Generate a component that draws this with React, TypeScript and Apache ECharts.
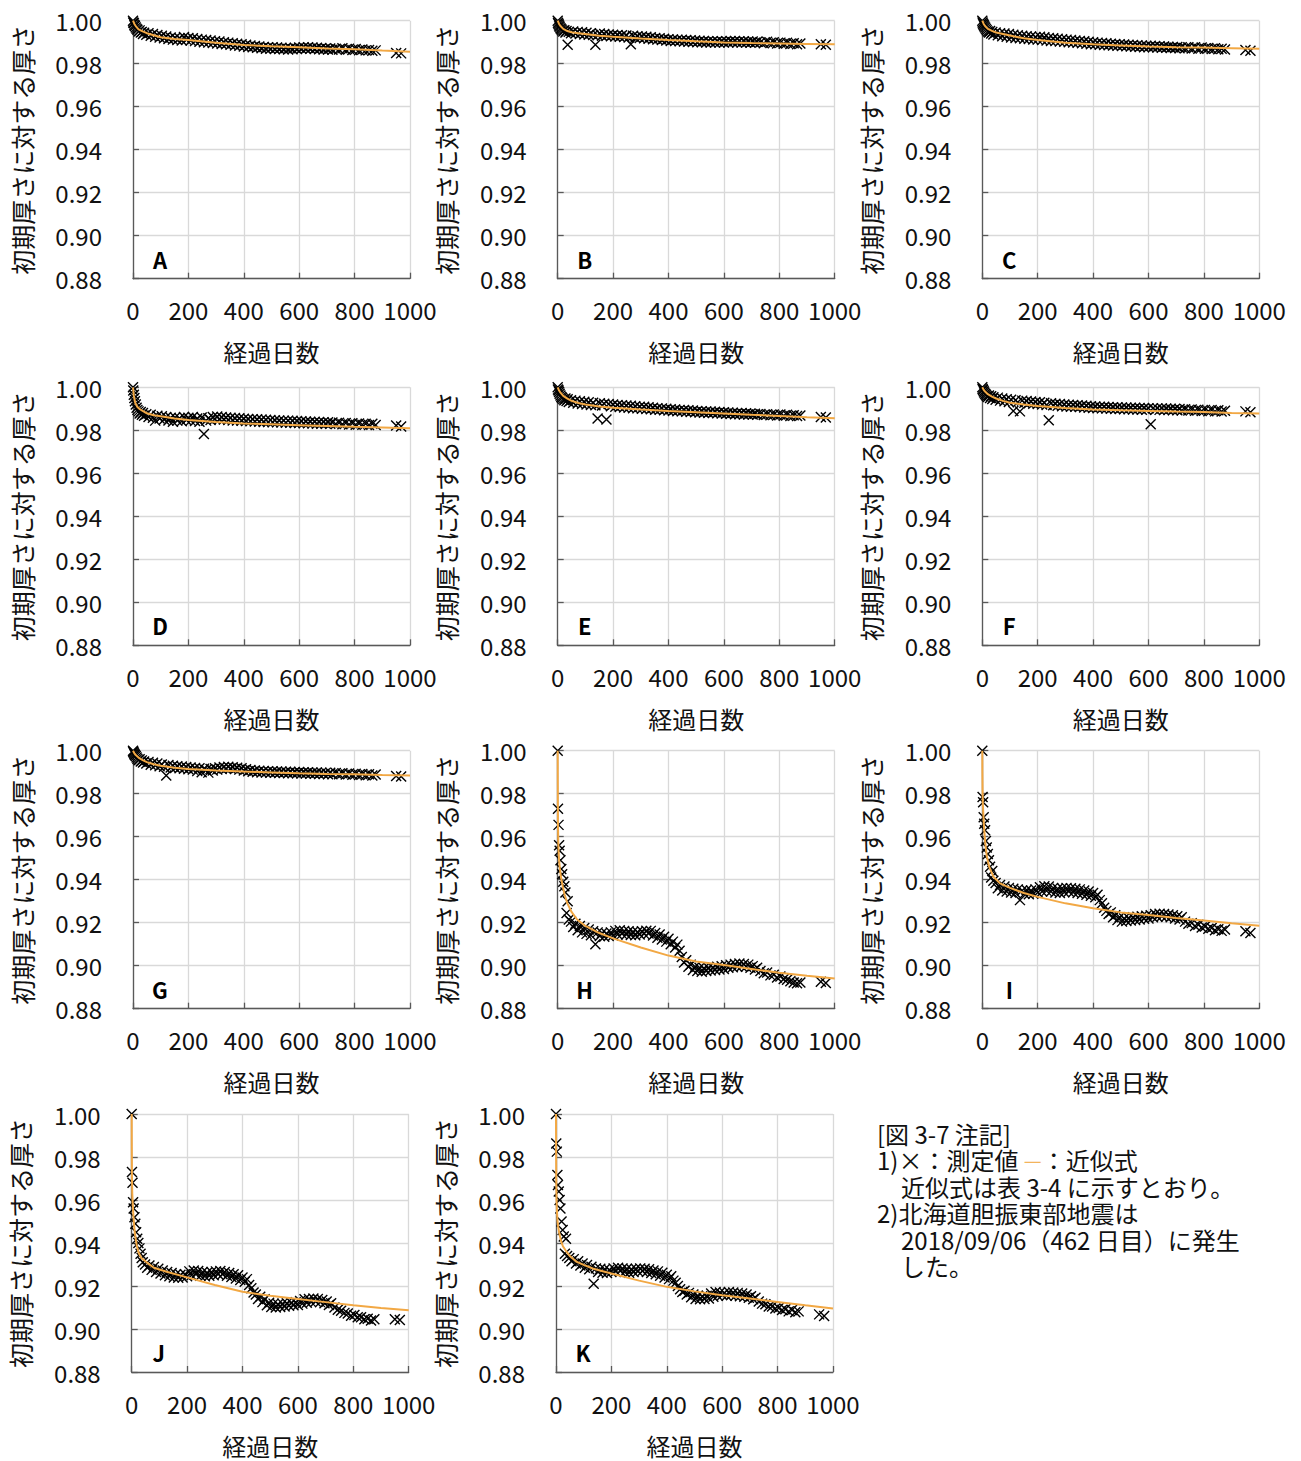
import React, { useEffect, useRef } from "react";
import * as echarts from "echarts";

// ---- measurement days (shared by all panels) ----
const DAYS = [
  0, 1, 3, 5, 7, 10, 13, 16, 20, 24, 28, 32, 36, 40,
  48, 56, 64, 72, 80, 88, 96, 104, 112, 120, 128, 136, 144, 152, 160, 168, 176, 184, 192,
  200, 208, 216, 224, 232, 240, 248, 256, 264, 272, 280, 288, 296, 304, 312, 320,
  328, 336, 344, 352, 360, 368, 376, 384, 392, 400, 408, 416, 424, 432, 440,
  448, 456, 464, 472, 480, 488, 496, 504, 512, 520, 528, 536, 544, 552, 560, 568, 576, 584, 592, 600,
  608, 616, 624, 632, 640, 648, 656, 664, 672, 680, 688, 696, 704, 712, 720,
  732, 744, 756, 768, 780, 792, 804, 816, 828, 840, 852, 864, 876,
  950, 968,
];

// ---- measured values (初期厚さに対する厚さ) ----
const VAL_A = [
  1.0, 0.9992, 0.9988, 0.998, 0.9975, 0.9968, 0.9962, 0.9958, 0.995, 0.9955, 0.9945, 0.9948, 0.9938, 0.9944,
  0.9935, 0.9942, 0.993, 0.9938, 0.9925, 0.9933, 0.9922, 0.993, 0.9918, 0.9926, 0.9915, 0.9922, 0.9912, 0.992, 0.991, 0.9918, 0.9908, 0.9924, 0.9912,
  0.992, 0.9908, 0.9918, 0.9905, 0.9915, 0.9902, 0.9912, 0.99, 0.991, 0.9898, 0.9908, 0.9896, 0.9905, 0.9894, 0.9903, 0.9892,
  0.99, 0.989, 0.9898, 0.9888, 0.9895, 0.9885, 0.9893, 0.9883, 0.989, 0.988, 0.9888, 0.9878, 0.9885, 0.9876, 0.9882,
  0.9874, 0.988, 0.9872, 0.9878, 0.987, 0.9877, 0.9869, 0.9876, 0.9868, 0.9875, 0.9868, 0.9874, 0.9867, 0.9873, 0.9866, 0.9872, 0.9867, 0.9874, 0.9868, 0.9875,
  0.9869, 0.9876, 0.987, 0.9877, 0.9869, 0.9875, 0.9868, 0.9874, 0.9867, 0.9873, 0.9866, 0.9872, 0.9866, 0.9871, 0.9865,
  0.987, 0.9866, 0.9872, 0.9865, 0.9869, 0.9864, 0.9868, 0.9863, 0.9866, 0.9862, 0.9864, 0.986, 0.9862,
  0.985, 0.9848,
];
const VAL_B = [
  1.0, 0.999, 0.9985, 0.9978, 0.9972, 0.9965, 0.996, 0.9955, 0.995, 0.9956, 0.9945, 0.9952, 0.9888, 0.9948,
  0.9942, 0.995, 0.994, 0.9948, 0.9938, 0.9946, 0.9936, 0.9944, 0.9935, 0.9942, 0.9933, 0.9888, 0.9932, 0.994, 0.993, 0.9938, 0.9929, 0.9936, 0.9928,
  0.9935, 0.9926, 0.9934, 0.9925, 0.9932, 0.9924, 0.9931, 0.9922, 0.989, 0.993, 0.9921, 0.9928, 0.992, 0.9927, 0.9918, 0.9925,
  0.9916, 0.9923, 0.9914, 0.992, 0.9912, 0.9918, 0.991, 0.9916, 0.9908, 0.9914, 0.9906, 0.9913, 0.9905, 0.9912, 0.9904,
  0.9911, 0.9903, 0.991, 0.9902, 0.9909, 0.9901, 0.9908, 0.99, 0.9907, 0.99, 0.9906, 0.9899, 0.9905, 0.9899, 0.9905, 0.9898, 0.9904, 0.9898, 0.9904, 0.9899,
  0.9905, 0.9899, 0.9906, 0.99, 0.9906, 0.9899, 0.9905, 0.9898, 0.9904, 0.9898, 0.9903, 0.9897, 0.9903, 0.9897, 0.9902,
  0.99, 0.9895, 0.9902, 0.9896, 0.99, 0.9894, 0.9898, 0.9893, 0.9897, 0.9892, 0.9895, 0.9891, 0.9894,
  0.989, 0.9888,
];
const VAL_C = [
  1.0, 0.9992, 0.9986, 0.998, 0.9974, 0.9968, 0.9962, 0.9956, 0.995, 0.9945, 0.9952, 0.994, 0.9948, 0.9936,
  0.9945, 0.9932, 0.9942, 0.9928, 0.994, 0.9925, 0.9938, 0.9922, 0.9935, 0.992, 0.9932, 0.9918, 0.993, 0.9916, 0.9928, 0.9915, 0.9926, 0.9913, 0.9924,
  0.9912, 0.9925, 0.991, 0.9923, 0.9908, 0.992, 0.9906, 0.9918, 0.9905, 0.9916, 0.9903, 0.9914, 0.9902, 0.9912, 0.99, 0.991,
  0.9899, 0.9908, 0.9897, 0.9906, 0.9895, 0.9904, 0.9893, 0.9902, 0.9891, 0.99, 0.989, 0.9898, 0.9888, 0.9896, 0.9887,
  0.9895, 0.9886, 0.9893, 0.9885, 0.9892, 0.9884, 0.989, 0.9882, 0.9889, 0.9881, 0.9888, 0.988, 0.9887, 0.9879, 0.9886, 0.9878, 0.9885, 0.9877, 0.9884, 0.9876,
  0.9883, 0.9876, 0.9882, 0.9875, 0.9881, 0.9874, 0.988, 0.9874, 0.9879, 0.9873, 0.9878, 0.9873, 0.9878, 0.9872, 0.9877,
  0.9872, 0.9877, 0.9871, 0.9876, 0.987, 0.9875, 0.9869, 0.9873, 0.9868, 0.9872, 0.9867, 0.987, 0.9866,
  0.9864, 0.986,
];
const VAL_D = [
  1.0, 0.9985, 0.9965, 0.995, 0.9935, 0.992, 0.9905, 0.9895, 0.9888, 0.9878, 0.9885, 0.9872, 0.988, 0.9868,
  0.9875, 0.9862, 0.9872, 0.9858, 0.9845, 0.9868, 0.9855, 0.9865, 0.985, 0.9862, 0.9846, 0.9858, 0.984, 0.986, 0.9845, 0.9856, 0.9842, 0.9862, 0.9848,
  0.9858, 0.9845, 0.9862, 0.9843, 0.9855, 0.984, 0.986, 0.9783, 0.9845, 0.9856, 0.9848, 0.9862, 0.9852, 0.9864, 0.985, 0.9862,
  0.985, 0.986, 0.9848, 0.9858, 0.9846, 0.9857, 0.9845, 0.9856, 0.9844, 0.9854, 0.9843, 0.9853, 0.9842, 0.9852, 0.9841,
  0.9851, 0.984, 0.985, 0.9839, 0.9849, 0.9838, 0.9848, 0.9837, 0.9847, 0.9837, 0.9846, 0.9836, 0.9845, 0.9835, 0.9845, 0.9835, 0.9844, 0.9834, 0.9843, 0.9834,
  0.9842, 0.9833, 0.9841, 0.9833, 0.984, 0.9832, 0.984, 0.9831, 0.9839, 0.9831, 0.9838, 0.983, 0.9837, 0.983, 0.9836,
  0.9829, 0.9835, 0.9828, 0.9834, 0.9827, 0.9833, 0.9826, 0.9832, 0.9826, 0.9831, 0.9825, 0.983, 0.9825,
  0.9822, 0.9818,
];
const VAL_E = [
  1.0, 0.999, 0.9985, 0.9978, 0.997, 0.9962, 0.9955, 0.995, 0.9945, 0.994, 0.9948, 0.9936, 0.9944, 0.9932,
  0.994, 0.9928, 0.9938, 0.9925, 0.9935, 0.9922, 0.9933, 0.992, 0.993, 0.9918, 0.9928, 0.9916, 0.9855, 0.9926, 0.9915, 0.9924, 0.985, 0.9922, 0.9912,
  0.992, 0.991, 0.9918, 0.9908, 0.9917, 0.9906, 0.9915, 0.9905, 0.9914, 0.9903, 0.9912, 0.9902, 0.991, 0.99, 0.9909, 0.9899,
  0.9907, 0.9898, 0.9905, 0.9896, 0.9903, 0.9895, 0.9902, 0.9893, 0.99, 0.9892, 0.9898, 0.989, 0.9897, 0.9889, 0.9895,
  0.9888, 0.9894, 0.9886, 0.9893, 0.9885, 0.9892, 0.9884, 0.989, 0.9883, 0.9889, 0.9882, 0.9888, 0.9881, 0.9887, 0.988, 0.9886, 0.9879, 0.9885, 0.9878, 0.9884,
  0.9877, 0.9883, 0.9876, 0.9882, 0.9875, 0.9881, 0.9875, 0.988, 0.9874, 0.9879, 0.9873, 0.9878, 0.9873, 0.9877, 0.9872,
  0.9876, 0.9871, 0.9875, 0.987, 0.9874, 0.9869, 0.9873, 0.9868, 0.9872, 0.9867, 0.987, 0.9866, 0.9869,
  0.9862, 0.986,
];
const VAL_F = [
  1.0, 0.9992, 0.9988, 0.9982, 0.9976, 0.997, 0.9965, 0.996, 0.9955, 0.9962, 0.995, 0.9958, 0.9946, 0.9954,
  0.9942, 0.9952, 0.9938, 0.9948, 0.9935, 0.9945, 0.9932, 0.9942, 0.989, 0.994, 0.993, 0.9888, 0.9938, 0.9928, 0.9936, 0.9926, 0.9934, 0.9924, 0.9932,
  0.9922, 0.993, 0.992, 0.9928, 0.9918, 0.9847, 0.9926, 0.9916, 0.9924, 0.9914, 0.9922, 0.9912, 0.992, 0.9911, 0.9919, 0.991,
  0.9918, 0.9909, 0.9916, 0.9908, 0.9915, 0.9906, 0.9914, 0.9905, 0.9912, 0.9904, 0.9911, 0.9903, 0.991, 0.9902, 0.9909,
  0.9901, 0.9908, 0.99, 0.9907, 0.9899, 0.9907, 0.9899, 0.9906, 0.9898, 0.9906, 0.9898, 0.9905, 0.9897, 0.9905, 0.9897, 0.9904, 0.9896, 0.9904, 0.9896, 0.9903,
  0.9828, 0.9903, 0.9895, 0.9902, 0.9895, 0.9902, 0.9894, 0.9901, 0.9894, 0.99, 0.9893, 0.99, 0.9893, 0.9899, 0.9892,
  0.9898, 0.9892, 0.9897, 0.9891, 0.9896, 0.989, 0.9895, 0.9889, 0.9894, 0.9888, 0.9893, 0.9887, 0.9891,
  0.9888, 0.9884,
];
const VAL_G = [
  1.0, 0.9995, 0.999, 0.9985, 0.998, 0.9975, 0.9968, 0.9962, 0.9956, 0.996, 0.995, 0.9955, 0.9945, 0.995,
  0.994, 0.9948, 0.9935, 0.9944, 0.9932, 0.994, 0.9928, 0.9936, 0.9925, 0.9885, 0.9934, 0.9922, 0.993, 0.992, 0.9928, 0.9918, 0.9926, 0.9916, 0.9924,
  0.9914, 0.9922, 0.9912, 0.992, 0.9905, 0.9918, 0.99, 0.9916, 0.991, 0.9898, 0.9915, 0.9908, 0.9918, 0.9912, 0.9922, 0.9915,
  0.9924, 0.9916, 0.9925, 0.9917, 0.9923, 0.9915, 0.9921, 0.9912, 0.9918, 0.9908, 0.9914, 0.9904, 0.991, 0.9902, 0.9908,
  0.99, 0.9907, 0.9899, 0.9906, 0.9898, 0.9905, 0.9897, 0.9904, 0.9897, 0.9903, 0.9896, 0.9903, 0.9896, 0.9902, 0.9895, 0.9902, 0.9895, 0.9901, 0.9895, 0.9901,
  0.9894, 0.99, 0.9894, 0.99, 0.9893, 0.9899, 0.9893, 0.9899, 0.9892, 0.9898, 0.9892, 0.9898, 0.9891, 0.9897, 0.9891,
  0.9896, 0.989, 0.9895, 0.9889, 0.9894, 0.9888, 0.9893, 0.9887, 0.9892, 0.9886, 0.989, 0.9885, 0.9889,
  0.9882, 0.988,
];
const VAL_H = [
  1.0, 0.973, 0.9655, 0.956, 0.9535, 0.949, 0.945, 0.9425, 0.939, 0.937, 0.934, 0.9245, 0.93, 0.9215,
  0.9205, 0.918, 0.9195, 0.9165, 0.9185, 0.9155, 0.9175, 0.9148, 0.9168, 0.9142, 0.916, 0.91, 0.9155, 0.9138, 0.9152, 0.9135, 0.915, 0.9138, 0.9155,
  0.914, 0.9162, 0.9145, 0.9165, 0.9148, 0.9162, 0.9145, 0.916, 0.9143, 0.9158, 0.9142, 0.9157, 0.9145, 0.916, 0.9148, 0.9163,
  0.915, 0.9162, 0.914, 0.9152, 0.913, 0.9145, 0.9122, 0.9135, 0.9112, 0.9125, 0.91, 0.9112, 0.9085, 0.9098, 0.907,
  0.904, 0.9015, 0.9025, 0.8995, 0.9005, 0.898, 0.8995, 0.8975, 0.899, 0.8972, 0.8988, 0.8975, 0.899, 0.8978, 0.8992, 0.898, 0.8995, 0.8982, 0.8998, 0.8985,
  0.9002, 0.899, 0.9005, 0.8993, 0.9008, 0.8995, 0.901, 0.8997, 0.9008, 0.8995, 0.9005, 0.899, 0.8998, 0.8982, 0.899,
  0.8975, 0.8965, 0.8968, 0.8955, 0.8958, 0.8945, 0.895, 0.8938, 0.8935, 0.8928, 0.8922, 0.8918, 0.8922,
  0.8925, 0.892,
];
const VAL_I = [
  1.0, 0.9785, 0.976, 0.969, 0.966, 0.963, 0.958, 0.955, 0.952, 0.949, 0.946, 0.941, 0.944, 0.9395,
  0.9385, 0.936, 0.9375, 0.935, 0.9368, 0.9345, 0.9362, 0.934, 0.9358, 0.9338, 0.9355, 0.9305, 0.935, 0.9335, 0.9352, 0.9332, 0.935, 0.9335, 0.9355,
  0.934, 0.9365, 0.9345, 0.937, 0.9348, 0.9368, 0.9345, 0.9362, 0.934, 0.9358, 0.9338, 0.936, 0.9342, 0.9362, 0.9345, 0.936,
  0.9342, 0.9358, 0.9338, 0.9355, 0.9335, 0.935, 0.933, 0.9345, 0.9325, 0.9338, 0.9318, 0.933, 0.9305, 0.929, 0.927,
  0.9255, 0.924, 0.9248, 0.9225, 0.9235, 0.9212, 0.9225, 0.9205, 0.922, 0.9208, 0.9222, 0.921, 0.9225, 0.9212, 0.9228, 0.9215, 0.923, 0.9218, 0.9232, 0.922,
  0.9235, 0.9225, 0.924, 0.9228, 0.9242, 0.923, 0.924, 0.9228, 0.9238, 0.9225, 0.9235, 0.922, 0.923, 0.9215, 0.9225,
  0.9205, 0.9195, 0.9198, 0.9185, 0.919, 0.9178, 0.9182, 0.9172, 0.9175, 0.9165, 0.917, 0.9162, 0.9168,
  0.916, 0.9152,
];
const VAL_J = [
  1.0, 0.973, 0.968, 0.959, 0.956, 0.952, 0.949, 0.945, 0.942, 0.94, 0.9375, 0.935, 0.933, 0.931,
  0.93, 0.9285, 0.9295, 0.9275, 0.9288, 0.9265, 0.928, 0.9258, 0.9272, 0.925, 0.9265, 0.9245, 0.926, 0.924, 0.9255, 0.9238, 0.9252, 0.924, 0.9255,
  0.9245, 0.9268, 0.925, 0.9272, 0.9255, 0.927, 0.9248, 0.9265, 0.9245, 0.9262, 0.9248, 0.9265, 0.925, 0.9268, 0.9255, 0.927,
  0.9255, 0.9265, 0.9248, 0.926, 0.9242, 0.9255, 0.9235, 0.925, 0.9228, 0.924, 0.922, 0.9232, 0.9205, 0.919, 0.917,
  0.916, 0.914, 0.915, 0.9125, 0.9138, 0.911, 0.9122, 0.9102, 0.9118, 0.91, 0.9115, 0.9102, 0.9118, 0.9105, 0.912, 0.9108, 0.9122, 0.911, 0.9125, 0.9112,
  0.913, 0.9118, 0.9138, 0.9122, 0.914, 0.9125, 0.9142, 0.9128, 0.914, 0.9125, 0.9135, 0.912, 0.9128, 0.9112, 0.912,
  0.91, 0.909, 0.9085, 0.9075, 0.9072, 0.9062, 0.9065, 0.9055, 0.9055, 0.9045, 0.9048, 0.904, 0.9045,
  0.9045, 0.9042,
];
const VAL_K = [
  1.0, 0.9863, 0.9825, 0.9716, 0.967, 0.964, 0.96, 0.956, 0.95, 0.946, 0.943, 0.935, 0.942, 0.934,
  0.933, 0.9315, 0.9325, 0.9305, 0.9315, 0.9295, 0.9305, 0.9285, 0.9298, 0.9278, 0.929, 0.921, 0.9282, 0.9265, 0.928, 0.9262, 0.9278, 0.926, 0.9275,
  0.9265, 0.9282, 0.9268, 0.9285, 0.927, 0.9282, 0.9265, 0.928, 0.9262, 0.9278, 0.9265, 0.928, 0.9268, 0.9282, 0.927, 0.928,
  0.9265, 0.9278, 0.926, 0.9272, 0.9255, 0.9268, 0.9248, 0.9262, 0.924, 0.9252, 0.9232, 0.9245, 0.9225, 0.9215, 0.92,
  0.9185, 0.9172, 0.9178, 0.916, 0.9168, 0.9148, 0.916, 0.914, 0.9155, 0.9138, 0.9152, 0.914, 0.9155, 0.9142, 0.9165, 0.915, 0.9172, 0.9155, 0.917, 0.9158,
  0.9168, 0.9155, 0.9172, 0.9158, 0.917, 0.9155, 0.9168, 0.9152, 0.9165, 0.915, 0.916, 0.9145, 0.9152, 0.9138, 0.9145,
  0.9128, 0.9118, 0.9115, 0.9105, 0.9105, 0.9095, 0.9098, 0.9088, 0.9092, 0.9082, 0.9088, 0.9078, 0.9082,
  0.9068, 0.906,
];

// ---- fitted curves (近似式) as [day, value] ----
const FIT_A = [[0, 1.0], [5, 0.9985], [10, 0.9975], [20, 0.996], [35, 0.995], [50, 0.9942], [75, 0.9932], [100, 0.9923], [150, 0.9915], [200, 0.991], [300, 0.9897], [400, 0.9887], [500, 0.9881], [600, 0.9876], [700, 0.9871], [800, 0.9867], [900, 0.9861], [1000, 0.9856]];
const FIT_B = [[0, 1.0], [5, 0.9985], [10, 0.9975], [20, 0.9962], [35, 0.9952], [50, 0.9946], [75, 0.9942], [100, 0.9938], [150, 0.993], [200, 0.9925], [300, 0.9917], [400, 0.991], [500, 0.9904], [600, 0.9899], [700, 0.9896], [800, 0.9894], [900, 0.9892], [1000, 0.989]];
const FIT_C = [[0, 1.0], [5, 0.9985], [10, 0.9975], [20, 0.9962], [35, 0.9953], [50, 0.9945], [75, 0.9938], [100, 0.9931], [150, 0.9918], [200, 0.991], [300, 0.9898], [400, 0.989], [500, 0.9885], [600, 0.988], [700, 0.9877], [800, 0.9875], [900, 0.9872], [1000, 0.9869]];
const FIT_D = [[0, 1.0], [3, 0.996], [8, 0.9928], [15, 0.991], [25, 0.9898], [35, 0.989], [50, 0.9879], [75, 0.987], [100, 0.9865], [150, 0.9855], [200, 0.9848], [300, 0.9839], [400, 0.9832], [500, 0.9828], [600, 0.9824], [700, 0.982], [800, 0.9816], [900, 0.9813], [1000, 0.981]];
const FIT_E = [[0, 1.0], [5, 0.9985], [10, 0.9975], [20, 0.996], [35, 0.9947], [50, 0.9937], [75, 0.9927], [100, 0.992], [150, 0.9911], [200, 0.9905], [300, 0.9897], [400, 0.989], [500, 0.9884], [600, 0.9878], [700, 0.9872], [800, 0.9867], [900, 0.9861], [1000, 0.9856]];
const FIT_F = [[0, 1.0], [5, 0.9988], [10, 0.998], [20, 0.9968], [35, 0.9957], [50, 0.9948], [75, 0.9937], [100, 0.9928], [150, 0.992], [200, 0.9913], [300, 0.9904], [400, 0.9897], [500, 0.9893], [600, 0.989], [700, 0.9887], [800, 0.9885], [900, 0.9881], [1000, 0.9878]];
const FIT_G = [[0, 1.0], [5, 0.9988], [10, 0.998], [20, 0.9968], [35, 0.9956], [50, 0.9947], [75, 0.9937], [100, 0.993], [150, 0.9921], [200, 0.9915], [300, 0.9908], [400, 0.9903], [500, 0.9899], [600, 0.9895], [700, 0.9892], [800, 0.989], [900, 0.9887], [1000, 0.9885]];
const FIT_H = [[0, 1.0], [0.3, 0.985], [1, 0.965], [2, 0.958], [3, 0.954], [5, 0.949], [8, 0.945], [12, 0.941], [18, 0.937], [25, 0.933], [35, 0.929], [50, 0.925], [70, 0.9215], [100, 0.9185], [150, 0.9152], [200, 0.9127], [300, 0.9085], [400, 0.9047], [500, 0.902], [600, 0.9003], [700, 0.8985], [800, 0.8967], [900, 0.8953], [1000, 0.894]];
const FIT_I = [[0, 1.0], [0.3, 0.99], [1, 0.981], [2, 0.975], [3.6, 0.971], [6, 0.965], [10, 0.958], [16, 0.951], [25, 0.946], [40, 0.9414], [64, 0.9383], [100, 0.9362], [150, 0.9338], [200, 0.932], [300, 0.929], [400, 0.9267], [500, 0.9248], [600, 0.9236], [700, 0.9222], [800, 0.921], [900, 0.9197], [1000, 0.9186]];
const FIT_J = [[0, 1.0], [0.3, 0.985], [1, 0.97], [2, 0.963], [4, 0.9576], [7, 0.951], [11, 0.945], [18, 0.939], [25, 0.9355], [35, 0.933], [54, 0.931], [80, 0.9285], [126, 0.9266], [200, 0.924], [300, 0.9205], [400, 0.9173], [500, 0.9155], [600, 0.914], [700, 0.9125], [800, 0.911], [900, 0.9098], [1000, 0.9087]];
const FIT_K = [[0, 1.0], [0.3, 0.985], [1, 0.968], [2, 0.96], [3, 0.956], [5, 0.951], [8, 0.9475], [12, 0.9445], [18, 0.941], [25, 0.9385], [35, 0.9365], [50, 0.934], [75, 0.9312], [100, 0.9298], [135, 0.928], [200, 0.9258], [300, 0.9225], [400, 0.9196], [500, 0.9175], [600, 0.9157], [700, 0.9142], [800, 0.9126], [900, 0.911], [1000, 0.9095]];

const PANEL_LABELS = ["A", "B", "C", "D", "E", "F", "G", "H", "I", "J", "K"];
const PANEL_VALUES = [VAL_A, VAL_B, VAL_C, VAL_D, VAL_E, VAL_F, VAL_G, VAL_H, VAL_I, VAL_J, VAL_K];
const PANEL_FITS = [FIT_A, FIT_B, FIT_C, FIT_D, FIT_E, FIT_F, FIT_G, FIT_H, FIT_I, FIT_J, FIT_K];

const X_TICKS = { min: 0, max: 1000, interval: 200 };
const Y_TICKS = { min: 0.88, max: 1.0, interval: 0.02 };
const X_NAME = "経過日数";
const Y_NAME = "初期厚さに対する厚さ";

const NOTE_TITLE = "[図 3-7 注記]";
const NOTE_1A = "1)×：測定値 ";
const NOTE_1B = "—";
const NOTE_1C = "：近似式";
const NOTE_1D = "　近似式は表 3-4 に示すとおり。";
const NOTE_2A = "2)北海道胆振東部地震は";
const NOTE_2B = "　2018/09/06（462 日目）に発生";
const NOTE_2C = "　した。";

// ---- layout (positions & styles) ----
const W = 1301;
const H = 1461;
const PLOT_W = 277;
const PLOT_H = 258;
const POS = [
  [133, 20.7], [557.7, 20.7], [982.3, 20.7],
  [133, 387.3], [557.7, 387.3], [982.3, 387.3],
  [133, 750.7], [557.7, 750.7], [982.3, 750.7],
  [131.7, 1114], [556, 1114],
];
const FONT = '"Noto Sans CJK JP", "Noto Sans", sans-serif';
const ORANGE = "#F2A844";
const AXIS = "#595959";
const GRIDC = "#D9D9D9";
const CROSS = "path://M0,0L10,10M10,0L0,10";

export default function App() {
  const ref = useRef<HTMLDivElement>(null);
  useEffect(() => {
    if (!ref.current) return;
    const chart = echarts.init(ref.current, undefined, { renderer: "svg" });
    const grids: any[] = [];
    const xAxes: any[] = [];
    const yAxes: any[] = [];
    const series: any[] = [];
    const graphics: any[] = [];
    PANEL_LABELS.forEach((lab, i) => {
      const [l, t] = POS[i];
      grids.push({ left: l, top: t, width: PLOT_W, height: PLOT_H, containLabel: false });
      xAxes.push({
        gridIndex: i,
        type: "value",
        ...X_TICKS,
        axisLine: { show: true, onZero: false, lineStyle: { color: AXIS, width: 1.3 } },
        axisTick: { show: true, inside: true, length: 6, lineStyle: { color: AXIS, width: 1.3 } },
        axisLabel: {
          margin: 19,
          fontSize: 24,
          color: "#111",
          fontFamily: FONT,
          formatter: (v: number) => String(v),
        },
        splitLine: { show: true, lineStyle: { color: GRIDC, width: 1.3 } },
        name: X_NAME,
        nameLocation: "middle",
        nameGap: 61,
        nameTextStyle: { fontSize: 24, color: "#111", fontFamily: FONT },
      });
      yAxes.push({
        gridIndex: i,
        type: "value",
        ...Y_TICKS,
        axisLine: { show: true, onZero: false, lineStyle: { color: AXIS, width: 1.3 } },
        axisTick: { show: true, inside: true, length: 6, lineStyle: { color: AXIS, width: 1.3 } },
        axisLabel: {
          margin: 31,
          fontSize: 24,
          color: "#111",
          fontFamily: FONT,
          formatter: (v: number) => v.toFixed(2),
        },
        splitLine: { show: true, lineStyle: { color: GRIDC, width: 1.3 } },
        name: Y_NAME,
        nameLocation: "middle",
        nameRotate: 90,
        nameGap: 99,
        nameTextStyle: { fontSize: 25, color: "#111", fontFamily: FONT },
      });
      const vals = PANEL_VALUES[i];
      const n = Math.min(vals.length, DAYS.length);
      const pts: number[][] = [];
      for (let j = 0; j < n; j++) pts.push([DAYS[j], vals[j]]);
      series.push({
        type: "scatter",
        xAxisIndex: i,
        yAxisIndex: i,
        data: pts,
        symbol: CROSS,
        symbolSize: 10,
        silent: true,
        itemStyle: { color: "rgba(0,0,0,0)", borderColor: "#000", borderWidth: 1.4, opacity: 1 },
        z: 2,
      });
      series.push({
        type: "line",
        xAxisIndex: i,
        yAxisIndex: i,
        data: PANEL_FITS[i],
        showSymbol: false,
        symbol: "none",
        silent: true,
        smooth: false,
        clip: false,
        lineStyle: { color: ORANGE, width: 2 },
        z: 3,
      });
      graphics.push({
        type: "text",
        x: l + 27,
        y: t + PLOT_H - 20,
        z: 10,
        style: {
          text: lab,
          fill: "#000",
          font: `bold 22px ${FONT}`,
          align: "center",
          verticalAlign: "middle",
        },
      });
    });

    const noteFont = `24px ${FONT}`;
    const LH = 26.6;
    const noteText = [
      `{a|${NOTE_TITLE}}`,
      `{a|${NOTE_1A}}{o|${NOTE_1B}}{a|${NOTE_1C}}`,
      `{a|${NOTE_1D}}`,
      `{a|${NOTE_2A}}`,
      `{a|${NOTE_2B}}`,
      `{a|${NOTE_2C}}`,
    ].join("\n");
    graphics.push({
      type: "text",
      x: 877,
      y: 1133 - LH / 2,
      style: {
        text: noteText,
        font: noteFont,
        fill: "#111",
        lineHeight: LH,
        align: "left",
        verticalAlign: "top",
        rich: {
          a: { fill: "#111", font: noteFont, lineHeight: LH },
          o: { fill: "#F3B45C", font: `20px ${FONT}`, lineHeight: LH },
        },
      },
    });

    chart.setOption({
      animation: false,
      backgroundColor: "#fff",
      textStyle: { fontFamily: FONT },
      grid: grids,
      xAxis: xAxes,
      yAxis: yAxes,
      series,
      graphic: graphics,
    });
    return () => chart.dispose();
  }, []);
  return (
    <div
      ref={ref}
      style={{ position: "absolute", left: 0, top: 0, width: W, height: H, background: "#fff" }}
    />
  );
}
